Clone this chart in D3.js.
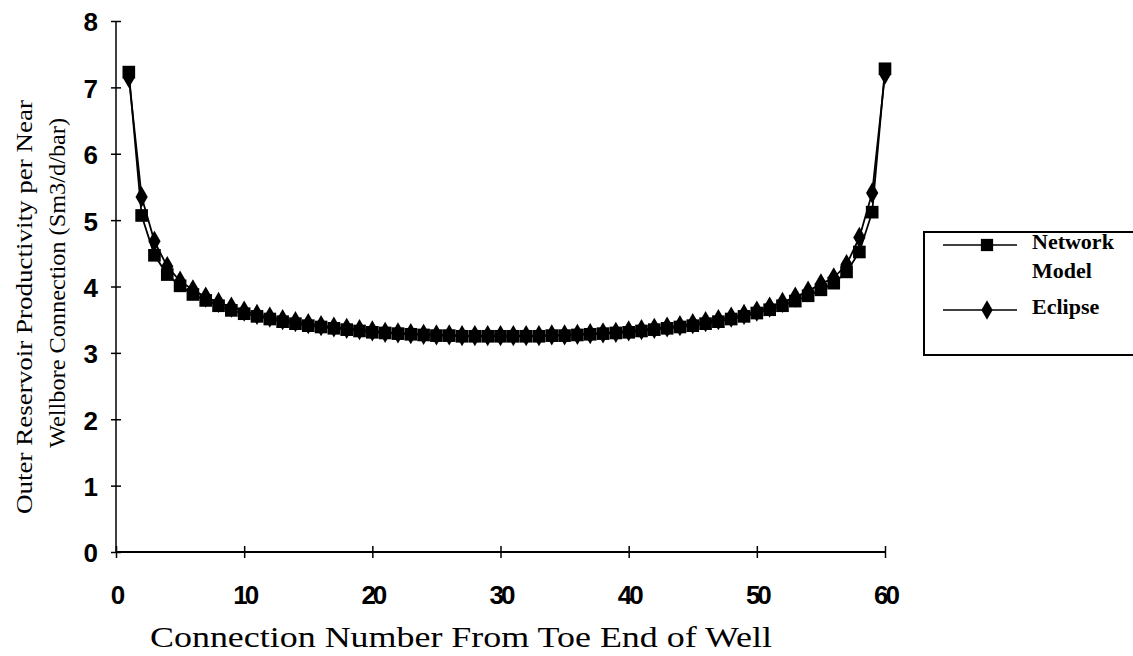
<!DOCTYPE html>
<html>
<head>
<meta charset="utf-8">
<script src="https://cdn.jsdelivr.net/npm/d3@7"></script>
<style>
  body { margin: 0; background: #fff; }
  svg { display: block; }
  text { font-family: "Liberation Serif", "DejaVu Serif", serif; fill: #000; }
</style>
</head>
<body>
<div id="chart"></div>
<script>
// connection number along the well (toe = 1)
const connections = d3.range(1, 61);

const networkModel = [
    7.23, 5.07, 4.47, 4.18, 4.01, 3.88, 3.79, 3.71, 3.64, 3.59,
    3.55, 3.51, 3.47, 3.44, 3.41, 3.39, 3.37, 3.35, 3.33, 3.31,
    3.30, 3.29, 3.28, 3.27, 3.26, 3.26, 3.25, 3.25, 3.25, 3.25,
    3.25, 3.25, 3.25, 3.26, 3.26, 3.27, 3.28, 3.29, 3.30, 3.31,
    3.33, 3.35, 3.37, 3.39, 3.41, 3.44, 3.47, 3.51, 3.55, 3.60,
    3.65, 3.71, 3.78, 3.86, 3.95, 4.05, 4.22, 4.52, 5.12, 7.28
];

const eclipse = [
    7.15, 5.35, 4.68, 4.30, 4.08, 3.95, 3.84, 3.76, 3.69, 3.63,
    3.58, 3.54, 3.50, 3.47, 3.44, 3.41, 3.39, 3.37, 3.35, 3.33,
    3.31, 3.30, 3.29, 3.28, 3.27, 3.27, 3.26, 3.26, 3.26, 3.26,
    3.26, 3.26, 3.26, 3.27, 3.27, 3.28, 3.29, 3.30, 3.31, 3.33,
    3.35, 3.37, 3.39, 3.41, 3.44, 3.47, 3.50, 3.54, 3.58, 3.63,
    3.69, 3.76, 3.84, 3.93, 4.04, 4.13, 4.33, 4.74, 5.41, 7.20
];

const xTicks = [0, 10, 20, 30, 40, 50, 60];
const yTicks = [0, 1, 2, 3, 4, 5, 6, 7, 8];

const width = 1133;
const height = 656;

const svg = d3.select('#chart').append('svg')
    .attr('width', width)
    .attr('height', height);

const x = d3.scaleLinear().domain([0, 60]).range([116, 885]);
const y = d3.scaleLinear().domain([0, 8]).range([552, 21]);

// eixo y
const yAxis = svg.append('g')
    .attr('transform', `translate(${x(0)},0)`)
    .call(d3.axisLeft(y).tickValues(yTicks).tickSize(5).tickPadding(13).tickFormat(d3.format('d')));
yAxis.select('.domain').attr('d', `M0,${y(8)}V${y(0)}`).attr('stroke-width', 1.5);
yAxis.selectAll('.tick line').attr('x1', 5).attr('stroke-width', 1.5);
yAxis.selectAll('.tick text')
    .style('font-size', '26px')
    .style('font-weight', 'bold')
    .style('font-family', '"Liberation Sans", sans-serif')
    .attr('dy', '0.38em');

// eixo x
const xAxis = svg.append('g')
    .attr('transform', `translate(0,${y(0)})`)
    .call(d3.axisBottom(x).tickValues(xTicks).tickSize(6).tickPadding(28).tickFormat(d3.format('d')));
xAxis.select('.domain').attr('d', `M${x(0)},0H${x(60)}`).attr('stroke-width', 2);
xAxis.selectAll('.tick line').attr('y1', -6).attr('stroke-width', 1.5);
xAxis.selectAll('.tick text')
    .style('font-size', '26px')
    .style('font-weight', 'bold')
    .style('font-family', '"Liberation Sans", sans-serif')
    .style('letter-spacing', '-3px');

// títulos
svg.append('text')
    .attr('x', 461)
    .attr('y', 647)
    .attr('text-anchor', 'middle')
    .attr('textLength', 622)
    .attr('lengthAdjust', 'spacingAndGlyphs')
    .style('font-size', '29px')
    .text('Connection Number From Toe End of Well');

const yTitle = svg.append('g')
    .attr('transform', 'rotate(-90)');
yTitle.append('text')
    .attr('x', -307)
    .attr('y', 32)
    .attr('text-anchor', 'middle')
    .attr('textLength', 414)
    .attr('lengthAdjust', 'spacingAndGlyphs')
    .style('font-size', '24px')
    .text('Outer Reservoir Productivity per Near');
yTitle.append('text')
    .attr('x', -283)
    .attr('y', 65)
    .attr('text-anchor', 'middle')
    .attr('textLength', 330)
    .attr('lengthAdjust', 'spacingAndGlyphs')
    .style('font-size', '24px')
    .text('Wellbore Connection (Sm3/d/bar)');

// séries
const line = d3.line()
    .x((d, i) => x(connections[i]))
    .y(d => y(d));

const series = [
    { name: 'network', values: networkModel, symbol: d3.symbolSquare, size: 160 },
    { name: 'eclipse', values: eclipse, symbol: d3.symbolDiamond, size: 130 }
];

series.forEach(s => {
    svg.append('path')
        .datum(s.values)
        .attr('fill', 'none')
        .attr('stroke', '#000')
        .attr('stroke-width', 1.8)
        .attr('d', line);
});

series.forEach(s => {
    svg.append('g').selectAll('path')
        .data(s.values)
        .enter().append('path')
        .attr('transform', (d, i) => `translate(${x(connections[i])},${y(d)})`)
        .attr('d', d3.symbol().type(s.symbol).size(s.size))
        .attr('fill', '#000');
});

// legenda
const legend = svg.append('g');
legend.append('rect')
    .attr('x', 924)
    .attr('y', 232)
    .attr('width', 230)
    .attr('height', 123)
    .attr('fill', 'none')
    .attr('stroke', '#000')
    .attr('stroke-width', 2);

const legendItems = [
    { label: ['Network', 'Model'], symbol: d3.symbolSquare, size: 150, cy: 245 },
    { label: ['Eclipse'], symbol: d3.symbolDiamond, size: 110, cy: 310 }
];

legendItems.forEach(item => {
    legend.append('line')
        .attr('x1', 943).attr('x2', 1017)
        .attr('y1', item.cy).attr('y2', item.cy)
        .attr('stroke', '#000')
        .attr('stroke-width', 1.6);
    legend.append('path')
        .attr('transform', `translate(987,${item.cy})`)
        .attr('d', d3.symbol().type(item.symbol).size(item.size))
        .attr('fill', '#000');
    item.label.forEach((t, k) => {
        legend.append('text')
            .attr('x', 1032)
            .attr('y', item.cy + 4 + k * 29)
            .style('font-size', '22px')
            .style('font-weight', 'bold')
            .text(t);
    });
});
</script>
</body>
</html>
